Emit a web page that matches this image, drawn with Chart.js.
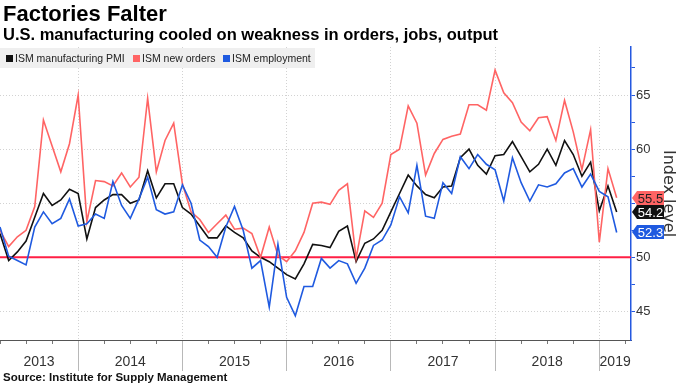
<!DOCTYPE html>
<html>
<head>
<meta charset="utf-8">
<script src="https://cdn.jsdelivr.net/npm/chart.js@4.4.1/dist/chart.umd.min.js"></script>
<style>
  html, body { margin:0; padding:0; background:#fff; }
  #wrap { position:relative; width:680px; height:383px; overflow:hidden; }
  #c { position:absolute; left:0; top:0; }
  .txt { position:absolute; white-space:nowrap; line-height:1; color:#000; }
  #title { left:3px; top:1px; font:bold 22px "Liberation Sans", Arial, sans-serif; }
  #subtitle { left:3px; top:25px; font:bold 16.5px "Liberation Sans", Arial, sans-serif; }
  #source { left:3px; top:371px; font:bold 11.5px "Liberation Sans", Arial, sans-serif; color:#111; }
  #legend { position:absolute; left:0; top:48px; width:315px; height:20px; background:#efefef; }
  .sw { position:absolute; top:7px; width:7px; height:7px; }
  .lt { position:absolute; top:5px; font:10.5px "Liberation Sans", Arial, sans-serif; color:#222; line-height:1; white-space:nowrap; }
</style>
</head>
<body>
<div id="wrap">
  <canvas id="c" width="680" height="383"></canvas>
  <div class="txt" id="title">Factories Falter</div>
  <div class="txt" id="subtitle">U.S. manufacturing cooled on weakness in orders, jobs, output</div>
  <div id="legend"></div>
  <div class="txt" id="source">Source: Institute for Supply Management</div>
</div>
<script>
// ---------------- data ----------------
const months = [
  '2013-03','2013-04','2013-05','2013-06','2013-07','2013-08','2013-09','2013-10','2013-11','2013-12',
  '2014-01','2014-02','2014-03','2014-04','2014-05','2014-06','2014-07','2014-08','2014-09','2014-10','2014-11','2014-12',
  '2015-01','2015-02','2015-03','2015-04','2015-05','2015-06','2015-07','2015-08','2015-09','2015-10','2015-11','2015-12',
  '2016-01','2016-02','2016-03','2016-04','2016-05','2016-06','2016-07','2016-08','2016-09','2016-10','2016-11','2016-12',
  '2017-01','2017-02','2017-03','2017-04','2017-05','2017-06','2017-07','2017-08','2017-09','2017-10','2017-11','2017-12',
  '2018-01','2018-02','2018-03','2018-04','2018-05','2018-06','2018-07','2018-08','2018-09','2018-10','2018-11','2018-12',
  '2019-01','2019-02'
];
const pmi = [
  52.2, 49.7, 50.5, 51.5, 53.7, 55.9, 54.8, 55.3, 56.3, 55.9,
  51.7, 54.6, 55.3, 55.8, 55.8, 55.0, 55.3, 58.0, 55.5, 56.8, 56.8, 54.6,
  54.0, 52.9, 51.8, 51.8, 52.9, 52.3, 51.8, 50.6, 50.0, 49.6, 49.0, 48.4,
  48.0, 49.4, 51.2, 51.1, 50.9, 52.4, 52.9, 49.6, 51.3, 51.7, 52.5, 54.2,
  55.9, 57.6, 56.6, 55.8, 55.5, 56.5, 56.6, 59.2, 60.0, 58.5, 57.7, 59.4,
  59.5, 60.7, 59.3, 57.9, 58.6, 60.0, 58.5, 60.8, 59.5, 57.5, 58.8, 54.3,
  56.6, 54.2
];
const newOrders = [
  52.5, 51.0, 51.9, 52.5, 54.7, 62.7, 60.3, 57.9, 60.5, 65.0,
  53.3, 57.1, 57.0, 56.6, 57.8, 56.5, 57.4, 64.7, 57.9, 60.8, 62.4, 56.8,
  54.2, 53.5, 52.3, 53.1, 53.9, 52.6, 52.7, 52.2, 50.0, 52.8, 50.2, 49.6,
  50.6, 52.3, 55.0, 55.1, 54.9, 56.2, 56.8, 49.9, 54.3, 53.7, 55.0, 59.5,
  60.0, 64.0, 62.4, 57.6, 59.6, 60.9, 61.2, 61.4, 64.1, 64.1, 63.6, 67.3,
  65.2, 64.3, 62.5, 61.7, 62.9, 63.0, 60.8, 64.5, 61.6, 58.1, 61.8, 51.4,
  58.2, 55.5
];
const employment = [
  52.8, 50.1, 49.7, 49.3, 52.8, 54.2, 53.1, 53.6, 55.4, 52.9,
  53.1, 54.0, 53.6, 57.0, 54.8, 53.6, 55.4, 57.4, 54.4, 54.0, 54.2, 56.7,
  55.0, 51.6, 51.0, 50.0, 52.8, 54.7, 52.5, 49.0, 49.7, 45.4, 51.2, 46.3,
  44.6, 47.3, 47.3, 49.9, 49.0, 49.7, 49.4, 47.6, 49.0, 51.1, 51.6, 53.0,
  55.6, 54.1, 58.5, 53.8, 53.6, 56.9, 55.9, 59.3, 58.2, 59.5, 58.6, 58.1,
  55.2, 59.2, 56.9, 55.2, 56.7, 56.5, 56.8, 57.8, 58.2, 56.5, 57.7, 56.1,
  55.6, 52.3
];
const seriesNames = ['ISM manufacturing PMI', 'ISM new orders', 'ISM employment'];
const yearLabels = ['2013','2014','2015','2016','2017','2018','2019'];
const yTickLabels = [45, 50, 55, 60, 65];
const threshold = 50;
const axisTitle = 'Index level';

// ---------------- styles ----------------
const colors = ['#111111', '#ff6464', '#1f5ae0'];
const tagText = ['#ffffff', '#222222', '#ffffff'];
const AXIS_BLUE = '#2458e0';
const X_MIN = 3, X_MAX = 75.65, Y_MIN = 42.36, Y_MAX = 69.44;

function monthX(s) { const [y, m] = s.split('-').map(Number); return (y - 2013) * 12 + m; }
const pts = arr => arr.map((v, i) => ({ x: monthX(months[i]), y: v }));
const baseYear = Number(yearLabels[0]);
function yearStart(label) { return (Number(label) - baseYear) * 12; }

// legend (HTML)
const legendEl = document.getElementById('legend');
const swX = [6, 133, 223], ltX = [15, 142, 232];
seriesNames.forEach((n, i) => {
  const s = document.createElement('div'); s.className = 'sw';
  s.style.left = swX[i] + 'px'; s.style.background = colors[i]; legendEl.appendChild(s);
  const t = document.createElement('div'); t.className = 'lt';
  t.style.left = ltX[i] + 'px'; t.textContent = n; legendEl.appendChild(t);
});

const series = [pmi, newOrders, employment];
const datasets = series.map((arr, i) => ({
  label: seriesNames[i], data: pts(arr), borderColor: colors[i], borderWidth: 1.6,
  pointRadius: 0, tension: 0, fill: false, tagFill: colors[i], tagText: tagText[i], order: 3 - i
}));
datasets.push({
  label: 'threshold', data: [{ x: X_MIN, y: threshold }, { x: X_MAX, y: threshold }],
  borderColor: '#ff1f45', borderWidth: 2, pointRadius: 0, order: 10
});

const tagPlugin = {
  id: 'tags',
  afterDraw(chart) {
    const { ctx, chartArea, scales: { y } } = chart;
    chart.data.datasets.forEach(ds => {
      if (!ds.tagFill) return;
      const v = ds.data[ds.data.length - 1].y;
      const py = Math.round(y.getPixelForValue(v));
      const x0 = chartArea.right + 1, h = 14, w = 32, tip = 5;
      ctx.save();
      ctx.beginPath();
      ctx.moveTo(x0, py);
      ctx.lineTo(x0 + tip, py - h / 2);
      ctx.lineTo(x0 + w, py - h / 2);
      ctx.lineTo(x0 + w, py + h / 2);
      ctx.lineTo(x0 + tip, py + h / 2);
      ctx.closePath();
      ctx.fillStyle = ds.tagFill; ctx.fill();
      ctx.fillStyle = ds.tagText;
      ctx.font = '13px "Liberation Sans", Arial, sans-serif';
      ctx.textAlign = 'center'; ctx.textBaseline = 'middle';
      ctx.fillText(v.toFixed(1), x0 + tip + (w - tip) / 2, py + 1);
      ctx.restore();
    });
  }
};

new Chart(document.getElementById('c'), {
  type: 'line',
  data: { datasets },
  plugins: [tagPlugin],
  options: {
    responsive: false, animation: false, devicePixelRatio: 1,
    layout: { padding: { top: 47, left: 0, right: 0, bottom: 0 } },
    plugins: { legend: { display: false }, tooltip: { enabled: false } },
    scales: {
      x: {
        type: 'linear', position: 'bottom', min: X_MIN, max: X_MAX,
        afterBuildTicks: s => { const t = []; for (let v = X_MIN; v <= X_MAX; v += 3) t.push({ value: v }); s.ticks = t; },
        ticks: { display: false },
        grid: {
          color: c => (c.tick && c.tick.value % 12 === 0) ? '#d2d2d2' : 'rgba(0,0,0,0)',
          tickColor: '#777', tickLength: 4, lineWidth: 1
        },
        border: { display: true, color: '#555', width: 1, dash: [1, 2] },
        afterFit: s => { s.height = 0; }
      },
      xYears: {
        type: 'linear', position: 'bottom', min: X_MIN, max: X_MAX,
        afterBuildTicks: s => { s.ticks = yearLabels.slice(1).map(l => ({ value: yearStart(l) })); },
        ticks: { display: false },
        grid: { drawOnChartArea: false, color: '#aaa', tickColor: '#b8b8b8', tickLength: 31 },
        border: { display: false },
        afterFit: s => { s.height = 0; }
      },
      xLabels: {
        type: 'linear', position: 'bottom', min: X_MIN, max: X_MAX,
        afterBuildTicks: s => {
          s.ticks = yearLabels.map(l => {
            const a = Math.max(X_MIN, yearStart(l)), b = Math.min(X_MAX, yearStart(l) + 12);
            return { value: (a + b) / 2 };
          });
        },
        ticks: {
          callback: (v, i) => yearLabels[i], autoSkip: false, maxRotation: 0,
          font: { family: '"Liberation Sans Narrow", "Liberation Sans", Arial', size: 14 }, color: '#333', padding: 14
        },
        grid: { display: false, drawTicks: false },
        border: { display: false },
        afterFit: s => { s.height = 43; }
      },
      y: {
        position: 'right', min: Y_MIN, max: Y_MAX,
        afterBuildTicks: s => {
          const t = [];
          yTickLabels.forEach(v => { t.push({ value: v }); t.push({ value: v + 2.5 }); });
          s.ticks = t;
        },
        ticks: {
          callback: v => yTickLabels.includes(v) ? String(v) : '',
          font: { family: '"Liberation Sans", Arial', size: 13 }, color: '#333', padding: 1
        },
        grid: {
          color: c => (c.tick && yTickLabels.includes(c.tick.value) && c.tick.value !== threshold) ? '#d2d2d2' : 'rgba(0,0,0,0)',
          tickColor: AXIS_BLUE, tickLength: 4, lineWidth: 1
        },
        border: { display: true, color: AXIS_BLUE, width: 1.5, dash: [1, 2] },
        title: {
          display: true, text: axisTitle, color: '#333',
          font: { family: '"DejaVu Sans", sans-serif', size: 16 }, padding: { top: 2, bottom: 2 }
        },
        afterFit: s => { s.width = 49; }
      }
    }
  }
});
</script>
</body>
</html>
